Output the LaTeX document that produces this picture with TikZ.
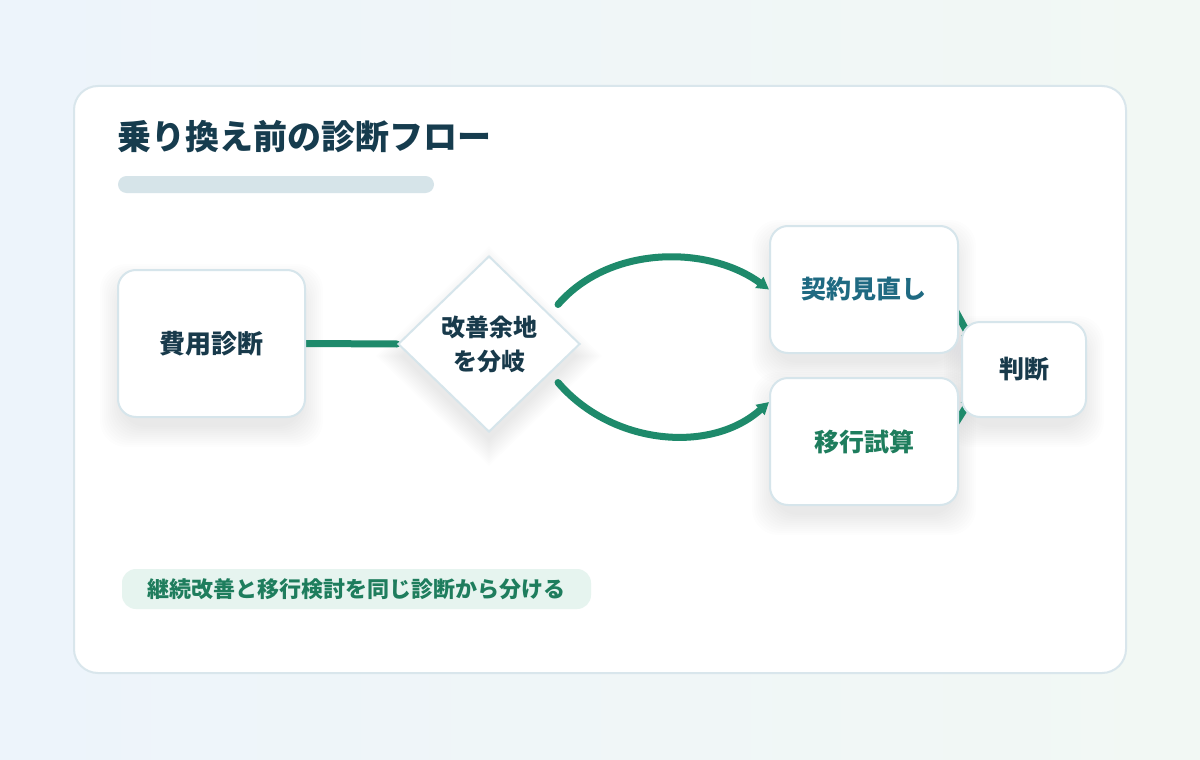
\documentclass[tikz,border=0pt]{standalone}
\usepackage{fontspec}
\setmainfont{Noto Sans CJK JP}
\usetikzlibrary{shapes.geometric,arrows.meta,calc}
\definecolor{bgA}{HTML}{EDF4FB}
\definecolor{bgB}{HTML}{F2F8F4}
\definecolor{cardline}{HTML}{D9E6EC}
\definecolor{boxline}{HTML}{D6E5EB}
\definecolor{flowgreen}{HTML}{1E8A6B}
\definecolor{darktext}{HTML}{183A4B}
\definecolor{titletext}{HTML}{163C4E}
\definecolor{bluetext}{HTML}{1F6A82}
\definecolor{greentext}{HTML}{1E7D5D}
\definecolor{barcol}{HTML}{D6E4E9}
\definecolor{pillcol}{HTML}{E6F4EF}
\definecolor{shadowcol}{HTML}{3A5566}
\tikzset{
  stepbox/.style={draw=boxline, line width=2pt, fill=white, rounded corners=18pt,
    font=\bfseries\fontsize{25}{28}\selectfont, text=darktext, inner sep=0pt},
  decision/.style={diamond, draw=boxline, line width=2pt, fill=white,
    minimum width=182pt, minimum height=176pt, inner sep=0pt, align=center,
    font=\bfseries\fontsize{24}{34}\selectfont, text=darktext},
  ghost/.style={draw=none, fill=none},
  shadowlayer/.style={fill=shadowcol, draw=none, opacity=0.0065, inner sep=0pt},
  flow/.style={draw=flowgreen, line width=7pt, line cap=round},
  flowarrow/.style={flow, -{Triangle[length=12pt,width=13pt]}},
}
\newcommand\mkboxshadow[3]{%
  \foreach \i in {0,...,10}{%
    \node[shadowlayer, rounded corners=26pt, minimum width={#2-4+4*\i}, minimum height={#3-4+4*\i}]
      at ($(#1)+(0,12)$) {};}}
\begin{document}
\begin{tikzpicture}[x=1pt,y=-1pt]
\useasboundingbox (0,0) rectangle (1200,760);
\shade[left color=bgA, right color=bgB] (0,0) rectangle (1200,760);
% card
\draw[draw=cardline, line width=2pt, fill=white, rounded corners=24pt] (74,86) rectangle (1126,673);
% title
\node[anchor=west, inner sep=0pt, text=titletext, font=\bfseries\fontsize{34}{38}\selectfont] (title) at (117,137) {乗り換え前の診断フロー};
\fill[barcol, rounded corners=8.5pt] (118,176) rectangle (434,193);

% invisible copies of the boxes, so connectors and shadows sit beneath them
\node[stepbox, ghost, minimum width=187pt, minimum height=147pt] (cost0) at (211.5,343.5) {};
\node[stepbox, ghost, minimum width=188pt, minimum height=127pt] (kz0) at (864,289.5) {};
\node[stepbox, ghost, minimum width=188pt, minimum height=127pt] (mig0) at (864,441.5) {};
\node[stepbox, ghost, minimum width=124pt, minimum height=95pt] (judge0) at (1024,369.5) {};
\node[decision, ghost] (div0) at (489,344) {};

% soft shadows
\mkboxshadow{cost0}{187}{147}
\mkboxshadow{kz0}{188}{127}
\mkboxshadow{mig0}{188}{127}
\mkboxshadow{judge0}{124}{95}
\foreach \i in {0,...,10}{%
  \node[shadowlayer, diamond, minimum width={176+5*\i}, minimum height={170+5*\i}] at ($(div0)+(0,12)$) {};}

% connectors
\draw[flow] (cost0.east) -- (div0.west);
\draw[flowarrow] ($(div0.north east)+(23,5)$) .. controls +(52,-60) and +(-60,-44) .. (kz0.west);
\draw[flowarrow] ($(div0.south east)+(23,-6)$) .. controls +(54,63) and +(-58,52) .. ($(mig0.north west)+(0,25)$);
\draw[flowarrow] ($(kz0.east)+(-15,0)$) -- ($(judge0.north west)+(12,22)$);
\draw[flowarrow] ($(mig0.east)+(-15,0)$) -- ($(judge0.south west)+(12,-22)$);

% boxes
\node[stepbox, minimum width=187pt, minimum height=147pt, font=\bfseries\fontsize{26}{28}\selectfont] (cost) at (211.5,343.5) {費用診断};
\node[decision] (div) at (489,344) {改善余地\\を分岐};
\node[stepbox, minimum width=188pt, minimum height=127pt, text=bluetext] (kz) at (864,289.5) {契約見直し};
\node[stepbox, minimum width=188pt, minimum height=127pt, text=greentext] (mig) at (864,441.5) {移行試算};
\node[stepbox, minimum width=124pt, minimum height=95pt] (judge) at (1024,369.5) {判断};

% note pill
\node[fill=pillcol, rounded corners=14pt, minimum width=469pt, minimum height=40pt, inner sep=0pt,
  text=greentext, font=\bfseries\fontsize{22}{24}\selectfont] (note) at (356.5,589) {継続改善と移行検討を同じ診断から分ける};
\end{tikzpicture}
\end{document}
